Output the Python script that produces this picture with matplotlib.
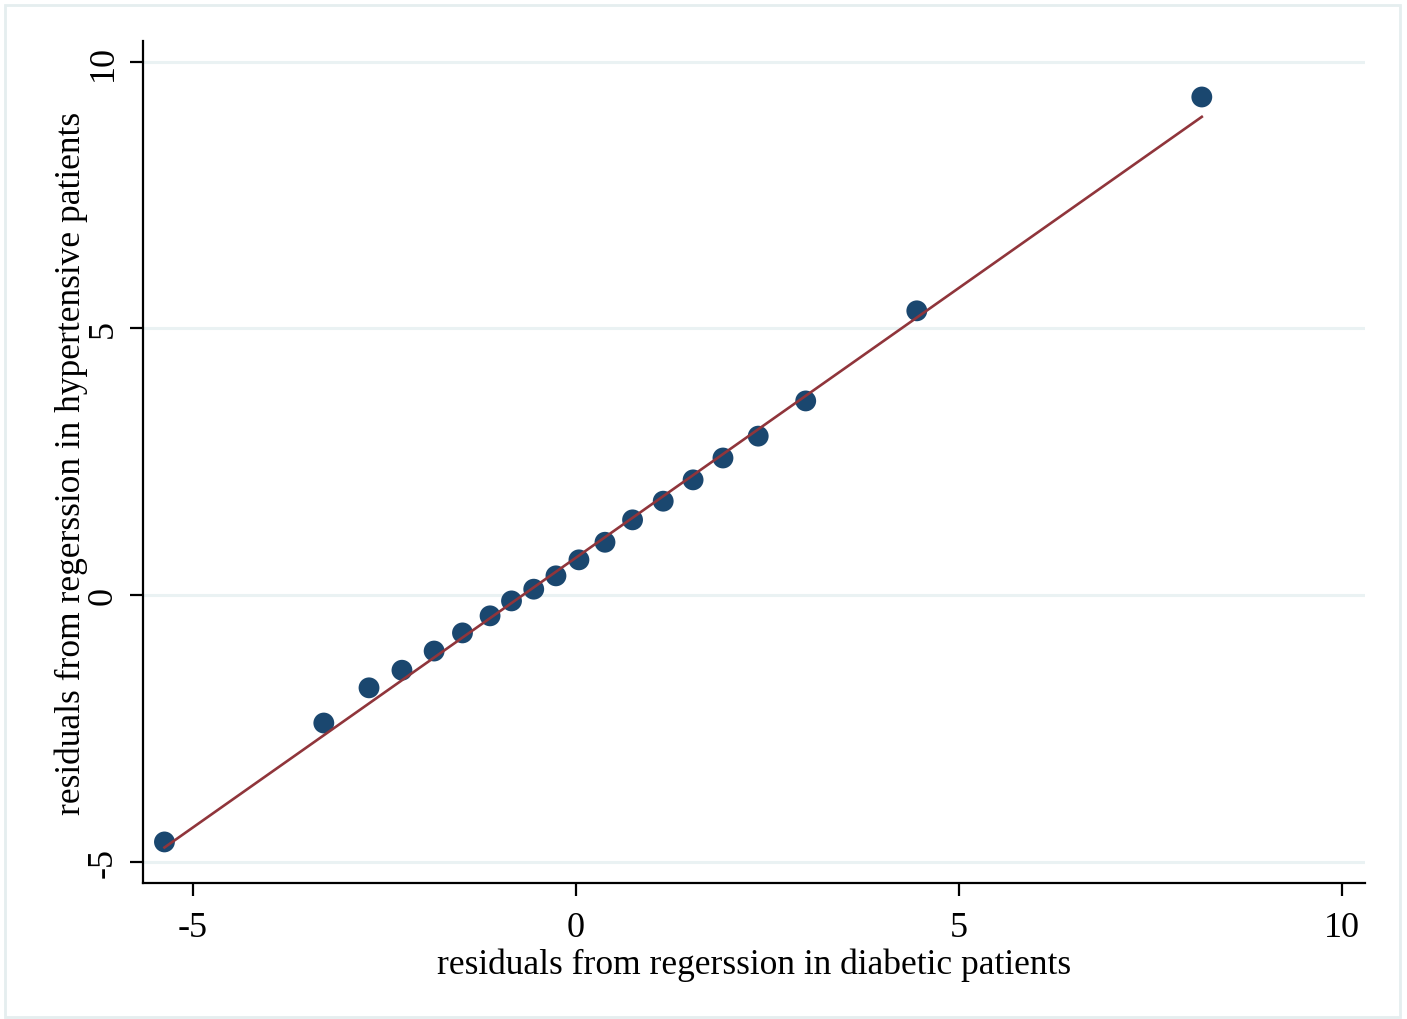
import matplotlib
matplotlib.use('Agg')
import matplotlib.pyplot as plt
from matplotlib.patches import Rectangle
import numpy as np

# residuals
diabetic = [-5.37, -3.29, -2.70, -2.27, -1.85, -1.48, -1.12, -0.84, -0.55, -0.26,
            0.04, 0.38, 0.74, 1.14, 1.53, 1.92, 2.38, 3.00, 4.45, 8.17]
hypertensive = [-4.63, -2.40, -1.74, -1.41, -1.05, -0.71, -0.39, -0.11, 0.11, 0.36,
                0.66, 0.99, 1.41, 1.76, 2.16, 2.57, 2.98, 3.64, 5.33, 9.34]
line_slope = 1.012
line_intercept = 0.70
x_ticks = [-5, 0, 5, 10]
y_ticks = [-5, 0, 5, 10]

plt.rcParams['font.family'] = ['Liberation Serif', 'DejaVu Serif']

fig = plt.figure(figsize=(14.07, 10.20), dpi=100)
ax = fig.add_axes([143 / 1407, 1 - 884 / 1020, (1365 - 143) / 1407, (884 - 42) / 1020])

# light outer frame
fig.patches.append(Rectangle((5 / 1407, 2 / 1020), 1395 / 1407, 1012 / 1020,
                             transform=fig.transFigure, fill=False,
                             edgecolor='#e5eeef', linewidth=2))

for y in y_ticks:
    ax.axhline(y, color='#eaf2f3', linewidth=2.2, zorder=0)

xs = np.array([min(diabetic), max(diabetic)])
ax.plot(xs, line_slope * xs + line_intercept, color='#90353b', linewidth=1.9, zorder=3)
ax.scatter(diabetic, hypertensive, s=225, color='#1a476f', edgecolors='none', zorder=2)

ax.set_xlim(-5.65, 10.3)
ax.set_ylim(-5.4, 10.39)
ax.set_xticks(x_ticks)
ax.set_xticklabels([str(v) for v in x_ticks])
ax.set_yticks(y_ticks)
ax.set_yticklabels([str(v) for v in y_ticks], rotation=90, va='center')

for side in ['top', 'right']:
    ax.spines[side].set_visible(False)
for side in ['left', 'bottom']:
    ax.spines[side].set_linewidth(1.6)
ax.tick_params(direction='out', length=9.5, width=1.6, labelsize=26)
ax.tick_params(axis='x', pad=11)
ax.tick_params(axis='y', pad=7)

ax.set_xlabel('residuals from regerssion in diabetic patients', fontsize=25.5, labelpad=2)
ax.set_ylabel('residuals from regerssion in hypertensive patients', fontsize=25.5, labelpad=-1)

fig.savefig('out.png', dpi=100)
